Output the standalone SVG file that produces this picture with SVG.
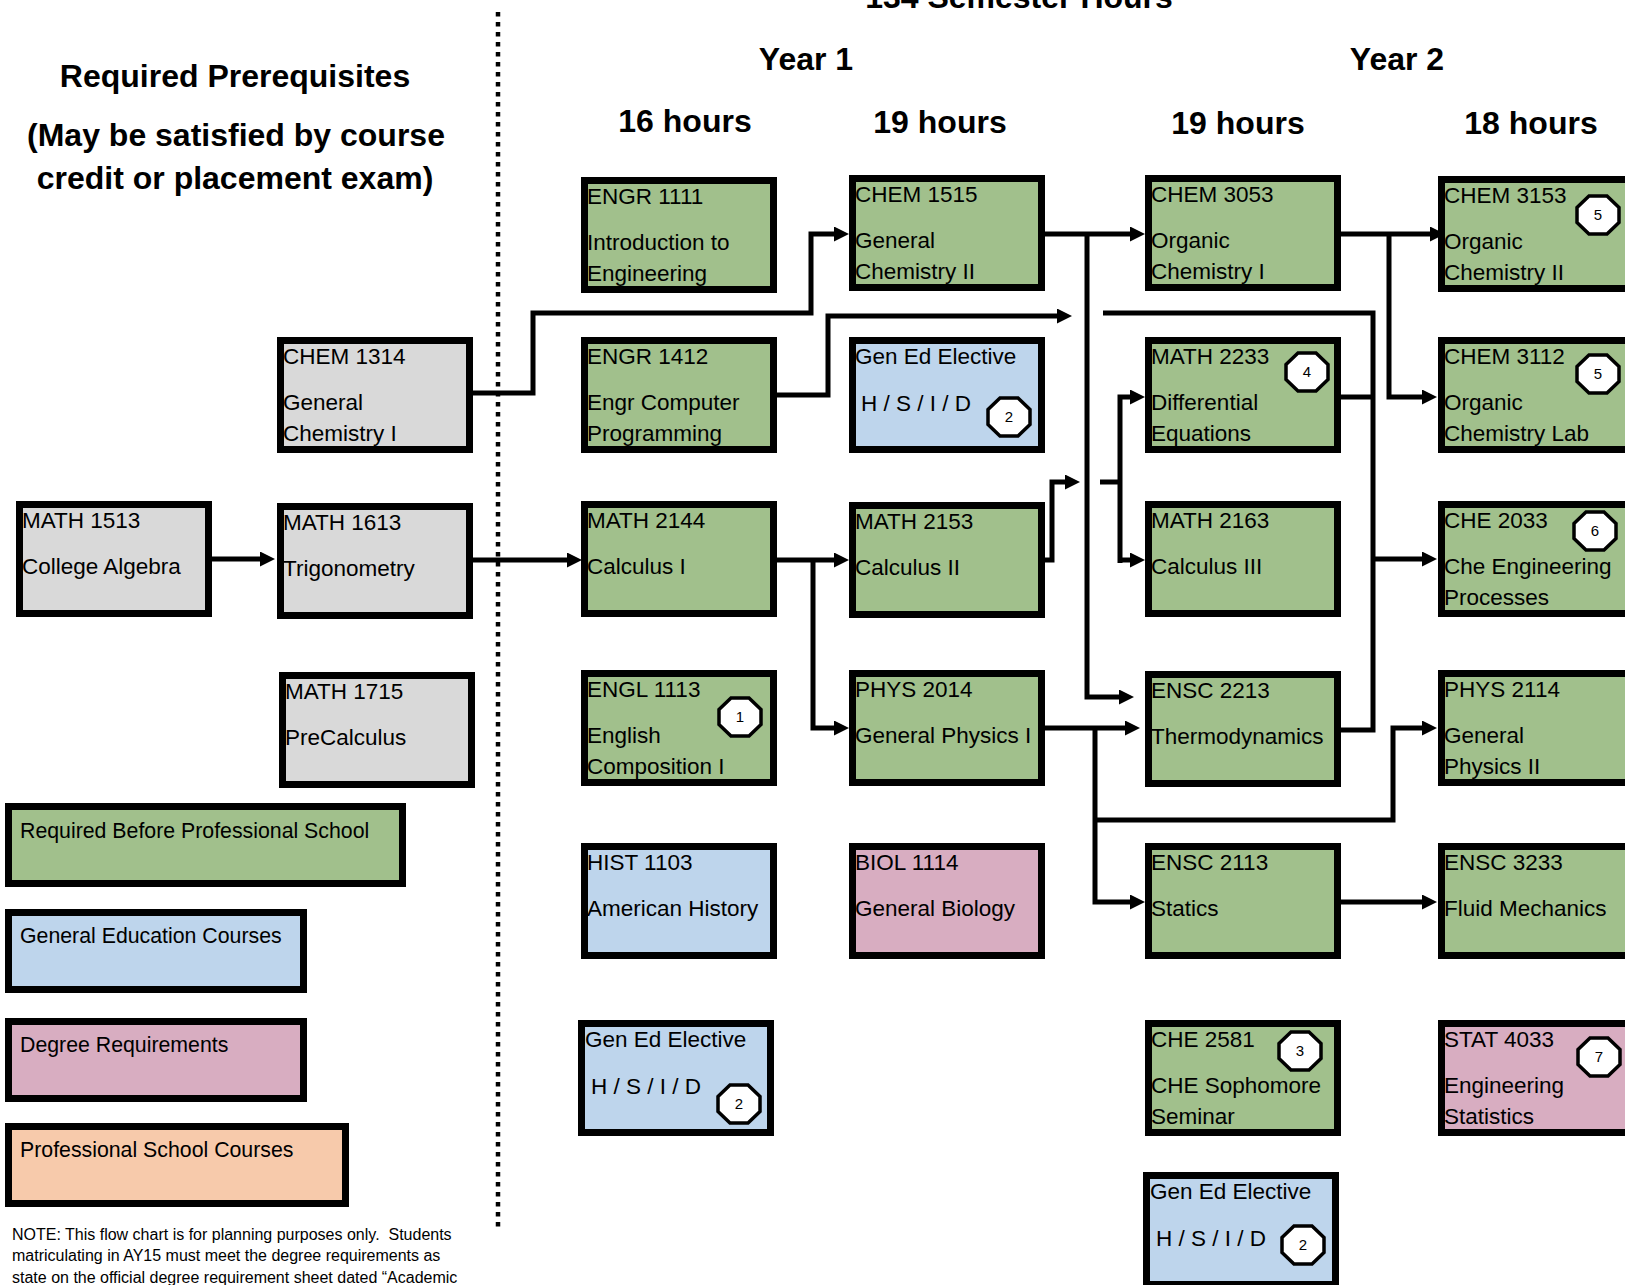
<svg xmlns="http://www.w3.org/2000/svg" width="1625" height="1285" viewBox="0 0 1625 1285">
<style>
text{font-family:"Liberation Sans",Arial,Helvetica,sans-serif;fill:#000}
.t{font-size:22.5px}
.lg{font-size:21.3px}
.h{font-size:32px;font-weight:bold;text-anchor:middle}
.note{font-size:16px;white-space:pre}
.box{stroke:#000;stroke-width:7}
.green{fill:#a1c08c}
.gray{fill:#d9d9d9}
.blue{fill:#bed5ec}
.pink{fill:#d8adc1}
.peach{fill:#f7caab}
.oct{fill:#fff;stroke:#000;stroke-width:3.5}
.bn{font-size:15px;text-anchor:middle}
.conn{fill:none;stroke:#000;stroke-width:5;stroke-linejoin:miter}
.arr{marker-end:url(#ah)}
.dots{stroke:#000;stroke-width:4.5;stroke-dasharray:4.5 5.5;fill:none}
</style>
<defs>
<marker id="ah" markerUnits="userSpaceOnUse" markerWidth="16" markerHeight="15" refX="2" refY="7.5" orient="auto">
<path d="M0,0 L15,7.5 L0,15 z" fill="#000"/>
</marker>
<polygon id="oct" points="-9,-19 9,-19 21,-7.5 21,7.5 9,19 -9,19 -21,7.5 -21,-7.5"/>
</defs>

<g id="headers">
<text class="h" x="1019" y="8">134 Semester Hours</text>
<text class="h" x="806" y="70">Year 1</text>
<text class="h" x="1397" y="70">Year 2</text>
<text class="h" x="685" y="132">16 hours</text>
<text class="h" x="940" y="133">19 hours</text>
<text class="h" x="1238" y="134">19 hours</text>
<text class="h" x="1531" y="134">18 hours</text>
<text class="h" x="235" y="87">Required Prerequisites</text>
<text class="h" x="236" y="146">(May be satisfied by course</text>
<text class="h" x="235" y="189">credit or placement exam)</text>
</g>

<line id="divider" class="dots" x1="498" y1="12" x2="498" y2="1228"/>

<g id="connectors">
<path class="conn arr" d="M472,393 H533 V313 H811 V234 H836"/>
<path class="conn arr" d="M775,395 H828 V316 H1059"/>
<path class="conn" d="M1103,313 H1373 V730 H1340"/>
<path class="conn" d="M1340,397 H1373"/>
<path class="conn arr" d="M1373,559 H1424"/>
<path class="conn arr" d="M1043,234 H1132"/>
<path class="conn arr" d="M1087,234 V697 H1121"/>
<path class="conn arr" d="M1340,234 H1432"/>
<path class="conn arr" d="M1389,234 V397 H1424"/>
<path class="conn arr" d="M1043,560 H1052 V482 H1067"/>
<path class="conn" d="M1100,482 H1120"/>
<path class="conn arr" d="M1120,563 V397 H1132"/>
<path class="conn arr" d="M1120,560 H1132"/>
<path class="conn arr" d="M775,560 H836"/>
<path class="conn arr" d="M813,560 V728 H836"/>
<path class="conn arr" d="M1043,728 H1127"/>
<path class="conn arr" d="M1095,728 V902 H1132"/>
<path class="conn arr" d="M1095,820 H1393 V728 H1424"/>
<path class="conn arr" d="M1340,902 H1424"/>
<path class="conn arr" d="M211,559 H262"/>
<path class="conn arr" d="M473,560 H569"/>
</g>

<g id="engr1111"><rect class="box green" x="584.5" y="180.5" width="189" height="109"/>
<text class="t" x="587" y="204">ENGR 1111</text><text class="t" x="587" y="250">Introduction to</text><text class="t" x="587" y="281">Engineering</text></g>
<g id="engr1412"><rect class="box green" x="584.5" y="340.5" width="189" height="109"/>
<text class="t" x="587" y="364">ENGR 1412</text><text class="t" x="587" y="410">Engr Computer</text><text class="t" x="587" y="441">Programming</text></g>
<g id="math2144"><rect class="box green" x="584.5" y="504.5" width="189" height="109"/>
<text class="t" x="587" y="528">MATH 2144</text><text class="t" x="587" y="574">Calculus I</text></g>
<g id="engl1113"><rect class="box green" x="584.5" y="673.5" width="189" height="109"/>
<text class="t" x="587" y="697">ENGL 1113</text><text class="t" x="587" y="743">English</text><text class="t" x="587" y="774">Composition I</text>
<use href="#oct" class="oct" x="740" y="717"/><text class="bn" x="740" y="722">1</text></g>
<g id="hist1103"><rect class="box blue" x="584.5" y="846.5" width="189" height="109"/>
<text class="t" x="587" y="870">HIST 1103</text><text class="t" x="587" y="916">American History</text></g>
<g id="gened1"><rect class="box blue" x="581.5" y="1023.5" width="189" height="109"/>
<text class="t" x="585" y="1047">Gen Ed Elective</text><text class="t" x="591" y="1094">H / S / I / D</text>
<use href="#oct" class="oct" x="739" y="1104"/><text class="bn" x="739" y="1109">2</text></g>

<g id="chem1515"><rect class="box green" x="852.5" y="178.5" width="189" height="109"/>
<text class="t" x="855" y="202">CHEM 1515</text><text class="t" x="855" y="248">General</text><text class="t" x="855" y="279">Chemistry II</text></g>
<g id="gened2"><rect class="box blue" x="852.5" y="340.5" width="189" height="109"/>
<text class="t" x="855" y="364">Gen Ed Elective</text><text class="t" x="861" y="411">H / S / I / D</text>
<use href="#oct" class="oct" x="1009" y="417"/><text class="bn" x="1009" y="422">2</text></g>
<g id="math2153"><rect class="box green" x="852.5" y="505.5" width="189" height="109"/>
<text class="t" x="855" y="529">MATH 2153</text><text class="t" x="855" y="575">Calculus II</text></g>
<g id="phys2014"><rect class="box green" x="852.5" y="673.5" width="189" height="109"/>
<text class="t" x="855" y="697">PHYS 2014</text><text class="t" x="855" y="743">General Physics I</text></g>
<g id="biol1114"><rect class="box pink" x="852.5" y="846.5" width="189" height="109"/>
<text class="t" x="855" y="870">BIOL 1114</text><text class="t" x="855" y="916">General Biology</text></g>

<g id="chem3053"><rect class="box green" x="1148.5" y="178.5" width="189" height="109"/>
<text class="t" x="1151" y="202">CHEM 3053</text><text class="t" x="1151" y="248">Organic</text><text class="t" x="1151" y="279">Chemistry I</text></g>
<g id="math2233"><rect class="box green" x="1148.5" y="340.5" width="189" height="109"/>
<text class="t" x="1151" y="364">MATH 2233</text><text class="t" x="1151" y="410">Differential</text><text class="t" x="1151" y="441">Equations</text>
<use href="#oct" class="oct" x="1307" y="372"/><text class="bn" x="1307" y="377">4</text></g>
<g id="math2163"><rect class="box green" x="1148.5" y="504.5" width="189" height="109"/>
<text class="t" x="1151" y="528">MATH 2163</text><text class="t" x="1151" y="574">Calculus III</text></g>
<g id="ensc2213"><rect class="box green" x="1148.5" y="674.5" width="189" height="109"/>
<text class="t" x="1151" y="698">ENSC 2213</text><text class="t" x="1151" y="744">Thermodynamics</text></g>
<g id="ensc2113"><rect class="box green" x="1148.5" y="846.5" width="189" height="109"/>
<text class="t" x="1151" y="870">ENSC 2113</text><text class="t" x="1151" y="916">Statics</text></g>
<g id="che2581"><rect class="box green" x="1148.5" y="1023.5" width="189" height="109"/>
<text class="t" x="1151" y="1047">CHE 2581</text><text class="t" x="1151" y="1093">CHE Sophomore</text><text class="t" x="1151" y="1124">Seminar</text>
<use href="#oct" class="oct" x="1300" y="1051"/><text class="bn" x="1300" y="1056">3</text></g>
<g id="gened3"><rect class="box blue" x="1146.5" y="1175.5" width="189" height="109"/>
<text class="t" x="1150" y="1199">Gen Ed Elective</text><text class="t" x="1156" y="1246">H / S / I / D</text>
<use href="#oct" class="oct" x="1303" y="1245"/><text class="bn" x="1303" y="1250">2</text></g>

<g id="chem3153"><rect class="box green" x="1441.5" y="179.5" width="189" height="109"/>
<text class="t" x="1444" y="203">CHEM 3153</text><text class="t" x="1444" y="249">Organic</text><text class="t" x="1444" y="280">Chemistry II</text>
<use href="#oct" class="oct" x="1598" y="215"/><text class="bn" x="1598" y="220">5</text></g>
<g id="chem3112"><rect class="box green" x="1441.5" y="340.5" width="189" height="109"/>
<text class="t" x="1444" y="364">CHEM 3112</text><text class="t" x="1444" y="410">Organic</text><text class="t" x="1444" y="441">Chemistry Lab</text>
<use href="#oct" class="oct" x="1598" y="374"/><text class="bn" x="1598" y="379">5</text></g>
<g id="che2033"><rect class="box green" x="1441.5" y="504.5" width="189" height="109"/>
<text class="t" x="1444" y="528">CHE 2033</text><text class="t" x="1444" y="574">Che Engineering</text><text class="t" x="1444" y="605">Processes</text>
<use href="#oct" class="oct" x="1595" y="531"/><text class="bn" x="1595" y="536">6</text></g>
<g id="phys2114"><rect class="box green" x="1441.5" y="673.5" width="189" height="109"/>
<text class="t" x="1444" y="697">PHYS 2114</text><text class="t" x="1444" y="743">General</text><text class="t" x="1444" y="774">Physics II</text></g>
<g id="ensc3233"><rect class="box green" x="1441.5" y="846.5" width="189" height="109"/>
<text class="t" x="1444" y="870">ENSC 3233</text><text class="t" x="1444" y="916">Fluid Mechanics</text></g>
<g id="stat4033"><rect class="box pink" x="1441.5" y="1023.5" width="189" height="109"/>
<text class="t" x="1444" y="1047">STAT 4033</text><text class="t" x="1444" y="1093">Engineering</text><text class="t" x="1444" y="1124">Statistics</text>
<use href="#oct" class="oct" x="1599" y="1057"/><text class="bn" x="1599" y="1062">7</text></g>

<g id="chem1314"><rect class="box gray" x="280.5" y="340.5" width="189" height="109"/>
<text class="t" x="283" y="364">CHEM 1314</text><text class="t" x="283" y="410">General</text><text class="t" x="283" y="441">Chemistry I</text></g>
<g id="math1513"><rect class="box gray" x="19.5" y="504.5" width="189" height="109"/>
<text class="t" x="22" y="528">MATH 1513</text><text class="t" x="22" y="574">College Algebra</text></g>
<g id="math1613"><rect class="box gray" x="280.5" y="506.5" width="189" height="109"/>
<text class="t" x="283" y="530">MATH 1613</text><text class="t" x="283" y="576">Trigonometry</text></g>
<g id="math1715"><rect class="box gray" x="282.5" y="675.5" width="189" height="109"/>
<text class="t" x="285" y="699">MATH 1715</text><text class="t" x="285" y="745">PreCalculus</text></g>

<g id="legend-required"><rect class="box green" x="8.5" y="806.5" width="394" height="77"/>
<text class="lg" x="20" y="838">Required Before Professional School</text></g>
<g id="legend-gened"><rect class="box blue" x="8.5" y="912.5" width="295" height="77"/>
<text class="lg" x="20" y="943">General Education Courses</text></g>
<g id="legend-degree"><rect class="box pink" x="8.5" y="1021.5" width="295" height="77"/>
<text class="lg" x="20" y="1052">Degree Requirements</text></g>
<g id="legend-prof"><rect class="box peach" x="8.5" y="1126.5" width="337" height="77"/>
<text class="lg" x="20" y="1157">Professional School Courses</text></g>

<g id="note">
<text class="note" x="12" y="1240">NOTE: This flow chart is for planning purposes only.  Students</text>
<text class="note" x="12" y="1261">matriculating in AY15 must meet the degree requirements as</text>
<text class="note" x="12" y="1283">state on the official degree requirement sheet dated “Academic</text>
</g>
</svg>
